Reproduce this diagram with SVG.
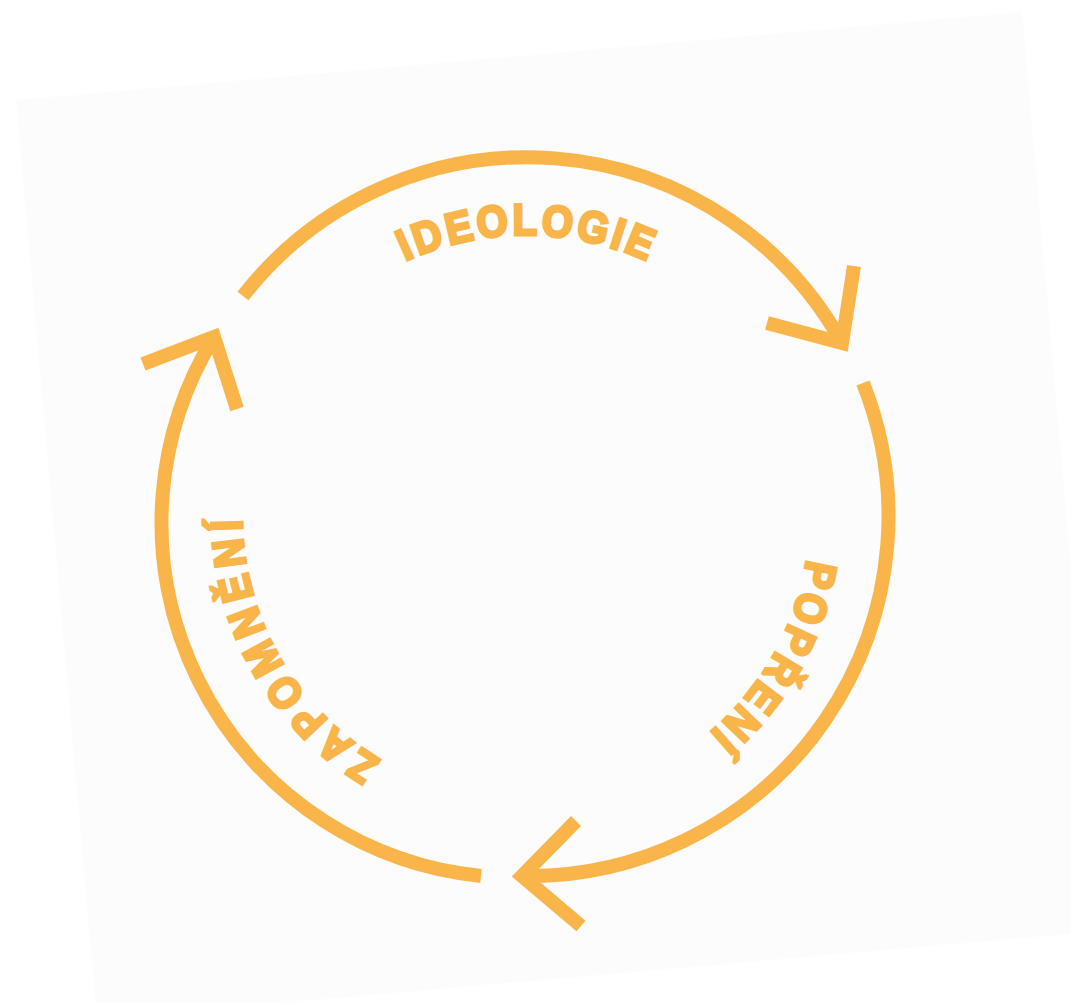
<svg xmlns="http://www.w3.org/2000/svg" width="1071" height="1003" viewBox="0 0 1071 1003">
  <style>
    .arc { fill: none; stroke: #F9B54A; stroke-width: 14; stroke-linecap: butt; }
    .head { fill: none; stroke: #F9B54A; stroke-width: 14; stroke-linejoin: miter; stroke-miterlimit: 10; stroke-linecap: butt; }
    .lbl text { fill: #F9B54A; stroke: #F9B54A; stroke-width: 3.2; stroke-linejoin: miter; stroke-miterlimit: 2; font-family: 'Liberation Sans', Arial, sans-serif; font-weight: bold; font-size: 44px; text-anchor: middle; }
  </style>
  <rect width="1071" height="1003" fill="#ffffff"/>
  <polygon points="16,100 1022,12 1103,931 97,1019" fill="#fcfcfc"/>
  <g id="connectors">
    <path class="arc" d="M 243 296 A 360 360 0 0 1 842 343"/>
    <polyline class="head" points="767,323 842,343 854,266"/>
    <path class="arc" d="M 863 383 A 360 360 0 0 1 523 876"/>
    <polyline class="head" points="576,821 522,876 581,926"/>
    <path class="arc" d="M 481 876 A 355 355 0 0 1 214 337"/>
    <polyline class="head" points="143,364 214,337 237,409"/>
  </g>
  <g id="ideologie" class="lbl">
    <text transform="translate(410.3,258.7) rotate(-24.05) scale(0.9,1)">I</text>
    <text transform="translate(432.1,250.5) rotate(-19.30) scale(0.9,1)">D</text>
    <text transform="translate(462.1,242.0) rotate(-13.01) scale(0.9,1)">E</text>
    <text transform="translate(493.8,236.6) rotate(-6.51) scale(0.9,1)">O</text>
    <text transform="translate(524.9,235.0) rotate(-0.22) scale(0.9,1)">L</text>
    <text transform="translate(556.0,236.6) rotate(6.06) scale(0.9,1)">O</text>
    <text transform="translate(589.9,242.0) rotate(13.01) scale(0.9,1)">G</text>
    <text transform="translate(613.7,248.4) rotate(17.98) scale(0.9,1)">I</text>
    <text transform="translate(634.7,255.6) rotate(22.51) scale(0.9,1)">E</text>
  </g>
  <g id="popreni" class="lbl">
    <text transform="translate(804.3,572.4) rotate(101.45) scale(0.9,1)">P</text>
    <text transform="translate(796.0,604.0) rotate(108.06) scale(0.9,1)">O</text>
    <text transform="translate(784.1,634.5) rotate(114.67) scale(0.9,1)">P</text>
    <text transform="translate(769.3,662.5) rotate(121.06) scale(0.9,1)">Ř</text>
    <text transform="translate(751.5,688.6) rotate(127.44) scale(0.9,1)">E</text>
    <text transform="translate(730.9,712.7) rotate(133.83) scale(0.9,1)">N</text>
    <text transform="translate(713.5,729.3) rotate(138.68) scale(0.9,1)">Í</text>
  </g>
  <g id="zapomneni" class="lbl">
    <text transform="translate(370.9,753.9) rotate(213.10) scale(0.9,1)">Z</text>
    <text transform="translate(344.3,734.3) rotate(219.77) scale(0.9,1)">A</text>
    <text transform="translate(319.4,710.9) rotate(226.66) scale(0.9,1)">P</text>
    <text transform="translate(296.9,683.8) rotate(233.77) scale(0.9,1)">O</text>
    <text transform="translate(276.3,651.4) rotate(241.54) scale(0.9,1)">M</text>
    <text transform="translate(260.7,617.4) rotate(249.08) scale(0.9,1)">N</text>
    <text transform="translate(250.5,584.8) rotate(255.97) scale(0.9,1)">Ě</text>
    <text transform="translate(244.2,551.3) rotate(262.86) scale(0.9,1)">N</text>
    <text transform="translate(242.1,524.9) rotate(268.21) scale(0.9,1)">Í</text>
  </g>
</svg>
